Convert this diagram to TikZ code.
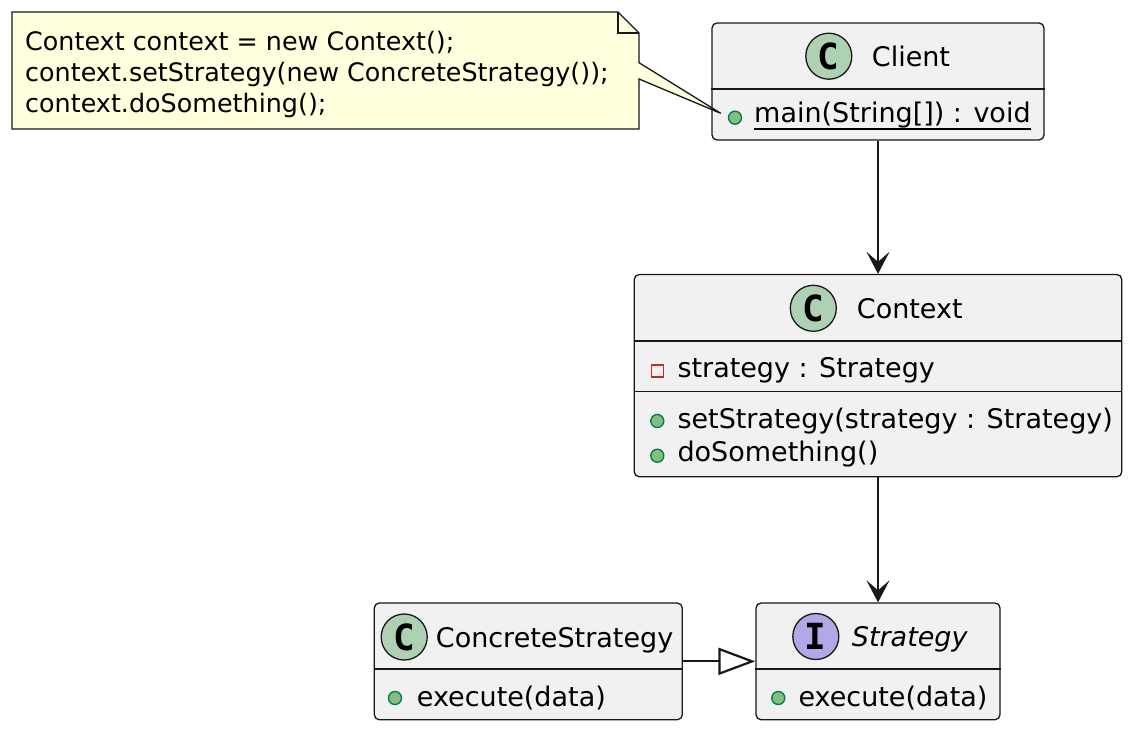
\documentclass[tikz,border=0pt]{standalone}
\usepackage{fontspec}
\setmainfont{DejaVu Sans}
\newfontfamily\glyphfont{DejaVu Sans Mono}
\usetikzlibrary{arrows.meta}

\definecolor{boxfill}{HTML}{F1F1F1}
\definecolor{boxline}{HTML}{181818}
\definecolor{notefill}{HTML}{FEFFDD}
\definecolor{classgreen}{HTML}{ADD1B2}
\definecolor{ifacepurple}{HTML}{B4A7E5}
\definecolor{dotfill}{HTML}{84BE84}
\definecolor{dotline}{HTML}{038048}
\definecolor{privred}{HTML}{C82930}

\tikzset{
  classbox/.style={rectangle, draw=boxline, fill=boxfill, line width=1.3pt, rounded corners=5pt, inner sep=0pt},
  sepline/.style={draw=boxline, line width=1.3pt},
  spot/.style={circle, draw=boxline, line width=1.3pt, minimum size=46pt, inner sep=0pt, font=\glyphfont\bfseries\fontsize{36}{36}\selectfont},
  member/.style={anchor=base west, inner sep=0pt, font=\fontsize{27}{33}\selectfont},
  notetext/.style={anchor=base west, inner sep=0pt, font=\fontsize{25.4}{31}\selectfont},
  pubdot/.style={circle, draw=dotline, fill=dotfill, line width=1.4pt, minimum size=13pt, inner sep=0pt},
  privbox/.style={rectangle, draw=privred, line width=1.7pt, minimum size=12pt, inner sep=0pt},
  assoc/.style={draw=boxline, line width=1.8pt, -{Stealth[length=22pt, width=23pt, inset=10pt]}},
  realize/.style={draw=boxline, line width=1.8pt, -{Triangle[open, length=37pt, width=27pt, line width=2.2pt]}}
}

\begin{document}
\begin{tikzpicture}[x=1pt, y=-1pt]
        \fill[white] (0,0) rectangle (1134,733);
        \useasboundingbox (0,0) rectangle (1134,733);

        \node[classbox, minimum width=332pt, minimum height=117pt] (client) at (878,81.5) {};
        \draw[sepline] (client.west |- 0,89) -- (client.east |- 0,89);
        \node[spot, fill=classgreen] (clientspot) at (828.8,56.2) {C};
        \node[member] (clientname) at (871.7,66.7) {Client};
        \node[pubdot] (maindot) at (735,117.7) {};
        \node[member] (mainrow) at (754,123) {main(String[]) : void};
        \draw[line width=1.8pt] ([yshift=-6.3pt]mainrow.base west) -- ([yshift=-6.3pt]mainrow.base east);

        \coordinate (notetip) at (720.7,113.3);
        \draw[draw=boxline, fill=notefill, line width=1.3pt] (12,12) -- (618,12) -- (639,33) -- (639,62.7) -- (notetip) -- (639,79) -- (639,129) -- (12,129) -- cycle;
        \draw[sepline] (618,12) -- (618,33) -- (639,33);
        \node[notetext] (note1) at (25,51) {Context context = new Context();};
        \node[notetext] (note2) at (25,82) {context.setStrategy(new ConcreteStrategy());};
        \node[notetext] (note3) at (25,113) {context.doSomething();};

        \node[classbox, minimum width=487.5pt, minimum height=202.3pt] (context) at (878,375.65) {};
        \draw[sepline] (context.west |- 0,341) -- (context.east |- 0,341);
        \draw[sepline] (context.west |- 0,391.7) -- (context.east |- 0,391.7);
        \node[spot, fill=classgreen] (contextspot) at (813.3,308.3) {C};
        \node[member] (contextname) at (856.7,318.3) {Context};
        \node[privbox] (strategybox) at (657.5,371) {};
        \node[member] (strategyrow) at (677.3,377.3) {strategy : Strategy};
        \node[pubdot] (setdot) at (657.3,421) {};
        \node[member] (setrow) at (677.3,428.3) {setStrategy(strategy : Strategy)};
        \node[pubdot] (dodot) at (657.3,455.7) {};
        \node[member] (dorow) at (677.3,461.5) {doSomething()};

        \node[classbox, minimum width=308pt, minimum height=116.7pt] (concrete) at (528.3,661.35) {};
        \draw[sepline] (concrete.west |- 0,669) -- (concrete.east |- 0,669);
        \node[spot, fill=classgreen] (concretespot) at (404.2,637) {C};
        \node[member] (concretename) at (435.7,647.5) {ConcreteStrategy};
        \node[pubdot] (concretedot) at (395,698) {};
        \node[member] (concreterow) at (416.7,706) {execute(data)};

        \node[classbox, minimum width=244pt, minimum height=116.7pt] (strategy) at (878,661.35) {};
        \draw[sepline] (strategy.west |- 0,669) -- (strategy.east |- 0,669);
        \node[spot, fill=ifacepurple] (strategyspot) at (815.8,636.5) {I};
        \node[member, font=\fontsize{27}{33}\selectfont\itshape] (strategyname) at (851.7,646.5) {Strategy};
        \node[pubdot] (strategydot) at (778.3,698) {};
        \node[member] (strategyrowb) at (798.3,706) {execute(data)};

        \draw[assoc] (client.south) -- (client.south |- context.north);
        \draw[assoc] (context.south) -- (context.south |- strategy.north);
        \draw[realize] (concrete.east) -- (strategy.west);
    \end{tikzpicture}
\end{document}
